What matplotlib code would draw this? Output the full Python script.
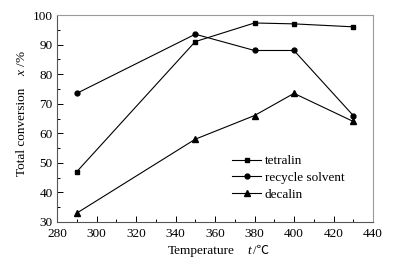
import matplotlib.pyplot as plt
from matplotlib.ticker import MultipleLocator

plt.rcParams['font.family'] = ['Liberation Serif', 'Noto Sans CJK SC']
plt.rcParams['mathtext.fontset'] = 'custom'
plt.rcParams['mathtext.it'] = 'Liberation Serif:italic'
plt.rcParams['mathtext.rm'] = 'Liberation Serif'

temps = [290, 350, 380, 400, 430]
tetralin = [47, 91, 97.3, 97, 96]
recycle = [73.5, 93.5, 88, 88, 66]
decalin = [33, 58, 66, 73.5, 64]

W, H = 398, 265
fig = plt.figure(figsize=(W / 100, H / 100), dpi=100)
ax = fig.add_axes([57 / W, 1 - 222 / H, 316 / W, 207 / H])

ax.plot(temps, tetralin, 'k-', marker='s', ms=3.5, lw=0.8, label='tetralin')
ax.plot(temps, recycle, 'k-', marker='o', ms=3.5, lw=0.8, label='recycle solvent')
ax.plot(temps, decalin, 'k-', marker='^', ms=3.8, lw=0.8, label='decalin')

ax.set_xlim(280, 440)
ax.set_ylim(30, 100)
ax.xaxis.set_major_locator(MultipleLocator(20))
ax.xaxis.set_minor_locator(MultipleLocator(10))
ax.yaxis.set_major_locator(MultipleLocator(10))
ax.yaxis.set_minor_locator(MultipleLocator(5))
fs = 9.5
ax.tick_params(which='both', direction='in', top=False, right=False, labelsize=fs)
ax.tick_params(axis='x', pad=4.5)
ax.tick_params(axis='y', pad=3)
ax.tick_params(which='major', length=4, width=0.7)
ax.tick_params(which='minor', length=2, width=0.7)
for s in ['top', 'right']:
    ax.spines[s].set_color('#9a9a9a')
for s in ['left', 'bottom']:
    ax.spines[s].set_color('#555555')

# axis titles, pieced together so the italic letter and the degree sign both render
fig.text(168 / W, 1 - 251 / H, 'Temperature', fontsize=fs, ha='left', va='center')
fig.text(247 / W, 1 - 251 / H, 't', fontsize=fs, style='italic', ha='left', va='center')
fig.text(253 / W, 1 - 251 / H, '/\u2103', fontsize=fs - 0.5, ha='left', va='center')
fig.text(22 / W, 1 - 176 / H, 'Total conversion', fontsize=fs, rotation=90,
         ha='center', va='bottom')
fig.text(22 / W, 1 - 76 / H, '$x$ /%', fontsize=fs, rotation=90,
         ha='center', va='bottom')

ax.legend(loc='upper left', bbox_to_anchor=(232 / W, 1 - 155 / H), bbox_transform=fig.transFigure,
          frameon=False, fontsize=fs, borderpad=0, borderaxespad=0,
          handlelength=2.2, handletextpad=0.3, labelspacing=0.35)

fig.savefig('out.png', dpi=100)
